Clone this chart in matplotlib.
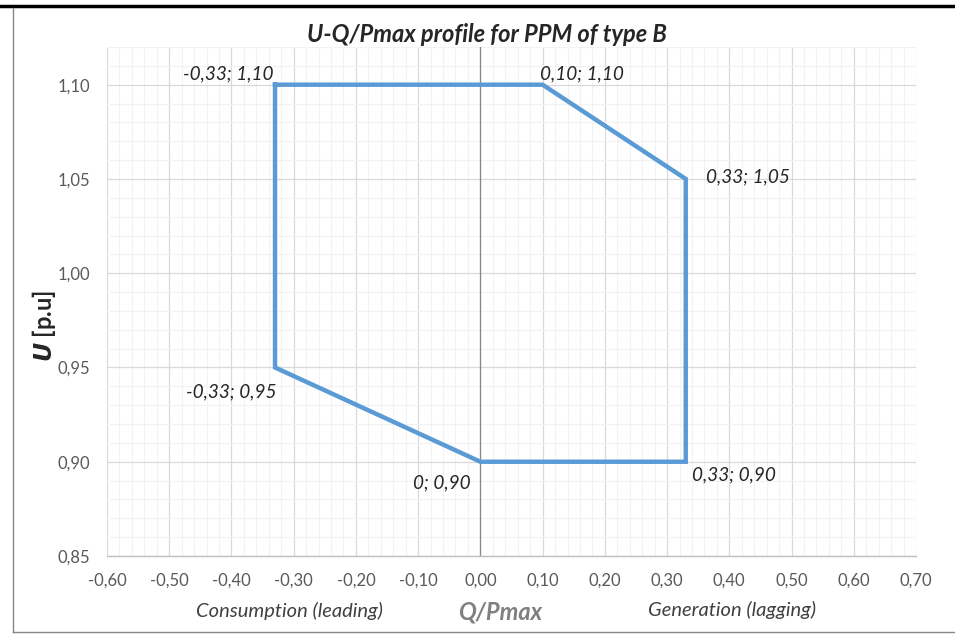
import matplotlib
matplotlib.use('Agg')
import matplotlib.pyplot as plt
from matplotlib.lines import Line2D
from matplotlib.ticker import MultipleLocator, FuncFormatter

plt.rcParams['font.family'] = ['Lato', 'DejaVu Sans']

# U-Q/Pmax capability polygon (closed path, in drawing order)
q_pmax = [-0.33, 0.10, 0.33, 0.33, 0.00, -0.33, -0.33]
u_pu = [1.10, 1.10, 1.05, 0.90, 0.90, 0.95, 1.10]

# label offsets in pixels for each corner + alignment
label_offsets = [(-2, 11), (-3, 11), (20, 2), (6, -13), (-10, -21), (1, -24)]
label_ha = ['right', 'left', 'left', 'left', 'right', 'right']

x_ticks = [-0.6, -0.5, -0.4, -0.3, -0.2, -0.1, 0.0, 0.1, 0.2, 0.3, 0.4, 0.5, 0.6, 0.7]
y_ticks = [0.85, 0.90, 0.95, 1.00, 1.05, 1.10]


def comma(v, pos=None):
    return f"{v:.2f}".replace('.', ',').replace('-0,00', '0,00')


def point_text(v):
    return "0" if v == 0 else comma(v)


fig = plt.figure(figsize=(9.55, 6.35), dpi=100)
ax = fig.add_axes([107 / 955, 1 - 556 / 635, (916 - 107) / 955, (556 - 47) / 635])

ax.set_xlim(-0.6, 0.7)
ax.set_ylim(0.85, 1.12)
ax.xaxis.set_minor_locator(MultipleLocator(0.02))
ax.yaxis.set_minor_locator(MultipleLocator(0.01))
ax.set_xticks(x_ticks)
ax.set_yticks(y_ticks)
ax.xaxis.set_major_formatter(FuncFormatter(comma))
ax.yaxis.set_major_formatter(FuncFormatter(comma))
ax.tick_params(which='both', length=0, labelsize=12, labelcolor='#595959')
ax.tick_params(axis='x', pad=12)
ax.tick_params(axis='y', pad=12)

ax.grid(which='minor', color='#f2f2f2', lw=0.8, zorder=0)
ax.grid(which='major', color='#d9d9d9', lw=0.9, zorder=0.5)
ax.set_axisbelow(True)
for side in ['top', 'right', 'left']:
    ax.spines[side].set_visible(False)
ax.spines['bottom'].set_color('#bfbfbf')
ax.spines['bottom'].set_linewidth(1.0)
ax.axvline(0, color='#868686', lw=0.9, zorder=1)

ax.plot(q_pmax, u_pu, color='#5b9bd5', lw=3.2, solid_joinstyle='miter',
        solid_capstyle='projecting', zorder=3)

for (q, u), (dx, dy), ha in zip(zip(q_pmax[:-1], u_pu[:-1]), label_offsets, label_ha):
    ax.annotate(f"{point_text(q)}; {point_text(u)}", (q, u), xytext=(dx, dy),
                textcoords='offset pixels', ha=ha, va='center',
                fontsize=13.7, style='italic', color='#262626', zorder=4)

# title and axis captions
fig.text(487 / 955, 1 - 34 / 635, "U-Q/Pmax profile for PPM of type B", ha='center', va='center',
         fontsize=17, fontweight='bold', style='italic', color='#262626')
fig.text(500 / 955, 1 - 612 / 635, "Q/Pmax", ha='center', va='center',
         fontsize=17, fontweight='bold', style='italic', color='#808080')
fig.text(290 / 955, 1 - 611 / 635, "Consumption (leading)", ha='center', va='center',
         fontsize=14.5, style='italic', color='#404040')
fig.text(732 / 955, 1 - 610 / 635, "Generation (lagging)", ha='center', va='center',
         fontsize=14.5, style='italic', color='#404040')
fig.text(44 / 955, 1 - 326 / 635, r"$\boldsymbol{U}$ [p.u]", rotation=90, ha='center', va='center',
         fontsize=17, fontweight='bold', color='#262626')

# outer frame: heavy rule on top, thin gray on left and bottom
fig.add_artist(Line2D([0, 1], [1 - 6 / 635, 1 - 6 / 635], color='black', lw=2.5,
                      transform=fig.transFigure))
fig.add_artist(Line2D([13 / 955, 13 / 955], [1 - 8 / 635, 1 - 632 / 635], color='#868686', lw=1,
                      transform=fig.transFigure))
fig.add_artist(Line2D([13 / 955, 1], [1 - 632 / 635, 1 - 632 / 635], color='#868686', lw=1,
                      transform=fig.transFigure))

fig.savefig('out.png', dpi=100)
